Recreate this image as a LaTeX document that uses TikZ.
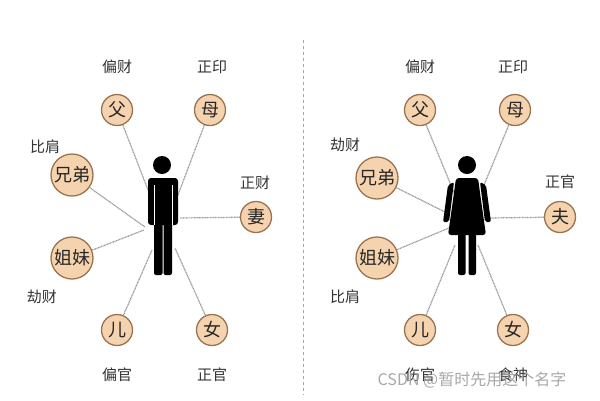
\documentclass[tikz,border=0pt]{standalone}
\usepackage{fontspec}
\newfontfamily\cjk{Noto Sans CJK SC}
\definecolor{tan}{HTML}{F5D3AE}
\definecolor{brn}{HTML}{9A7450}
\begin{document}
\begin{tikzpicture}[x=1pt,y=-1pt,
  rel/.style={circle,draw=brn,line width=1.3pt,fill=tan,inner sep=0pt,font=\cjk\fontsize{18}{18}\selectfont,text=black!85},
  sm/.style={rel,minimum size=31pt},
  bg/.style={rel,minimum size=42pt},
  lab/.style={font=\cjk\fontsize{15}{15}\selectfont,text=black!80},
  link/.style={draw=gray!80,line width=1.2pt,dash pattern=on 1pt off 0.6pt}]
\useasboundingbox (0,0) rectangle (600,400);
\fill[white] (0,0) rectangle (600,400);
\draw[gray!70,dashed] (303,40) -- (303,395);
% ---------- left: man ----------
\node[sm] (f1) at (117,110) {父};
\node[sm] (mo1) at (210,110) {母};
\node[bg] (x1) at (72,175) {兄弟};
\node[sm] (w1) at (256,217) {妻};
\node[bg] (j1) at (72,258) {姐妹};
\node[sm] (s1) at (117,330) {儿};
\node[sm] (d1) at (212,330) {女};
\coordinate (m1a) at (150,195);
\coordinate (m1b) at (178,195);
\coordinate (m1c) at (145,227);
\coordinate (m1e) at (180,218);
\coordinate (m1f) at (175,248);
\draw[link] (f1) -- (m1a);
\draw[link] (mo1) -- (m1b);
\draw[link] (x1) -- (m1c);
\draw[link] (j1) -- (144,230);
\draw[link] (w1) -- (m1e);
\draw[link] (s1) -- (152,250);
\draw[link] (d1) -- (m1f);
\fill[black] (162,165) circle (9);
\fill[black,rounded corners=3pt] (148,178) rectangle (178,225);
\fill[black,rounded corners=2pt] (154,210) rectangle (162.5,275);
\fill[black,rounded corners=2pt] (163.5,210) rectangle (172,275);
\fill[white] (153.5,185) rectangle (154.5,225);
\fill[white] (171.5,185) rectangle (172.5,225);
\node[lab] (l1) at (117,67) {偏财};
\node[lab] (l2) at (212,67) {正印};
\node[lab] (l3) at (45,147) {比肩};
\node[lab] (l4) at (255,183) {正财};
\node[lab] (l5) at (42,297) {劫财};
\node[lab] (l6) at (117,375) {偏官};
\node[lab] (l7) at (212,375) {正官};
% ---------- right: woman ----------
\node[sm] (f2) at (420,110) {父};
\node[sm] (mo2) at (515,110) {母};
\node[bg] (x2) at (377,178) {兄弟};
\node[sm] (h2) at (560,217) {夫};
\node[bg] (j2) at (377,258) {姐妹};
\node[sm] (s2) at (420,330) {儿};
\node[sm] (d2) at (513,330) {女};
\draw[link] (f2) -- (455,195);
\draw[link] (mo2) -- (482,190);
\draw[link] (x2) -- (445,212);
\draw[link] (j2) -- (449,228);
\draw[link] (h2) -- (490,218);
\draw[link] (s2) -- (455,245);
\draw[link] (d2) -- (478,245);
\fill[black] (467,165) circle (9);
\fill[black,rounded corners=3pt] (456,178) -- (478,178) -- (481,200) -- (486,235) -- (448,235) -- (453,200) -- cycle;
\fill[black,rounded corners=2pt] (448,185) -- (454,182) -- (449,222) -- (443,222) -- cycle;
\fill[black,rounded corners=2pt] (480,182) -- (486,185) -- (491,222) -- (485,222) -- cycle;
\fill[black,rounded corners=2pt] (458,232) rectangle (465.5,275);
\fill[black,rounded corners=2pt] (468.5,232) rectangle (476,275);
\node[lab] (r1) at (420,67) {偏财};
\node[lab] (r2) at (513,67) {正印};
\node[lab] (r3) at (345,145) {劫财};
\node[lab] (r4) at (560,182) {正官};
\node[lab] (r5) at (345,297) {比肩};
\node[lab] (r6) at (420,375) {伤官};
\node[lab] (r7) at (513,375) {食神};
\node[font=\cjk\fontsize{16}{16}\selectfont,text=gray!75,opacity=0.9] (wm) at (472,380) {CSDN @暂时先用这个名字};
\end{tikzpicture}
\end{document}
